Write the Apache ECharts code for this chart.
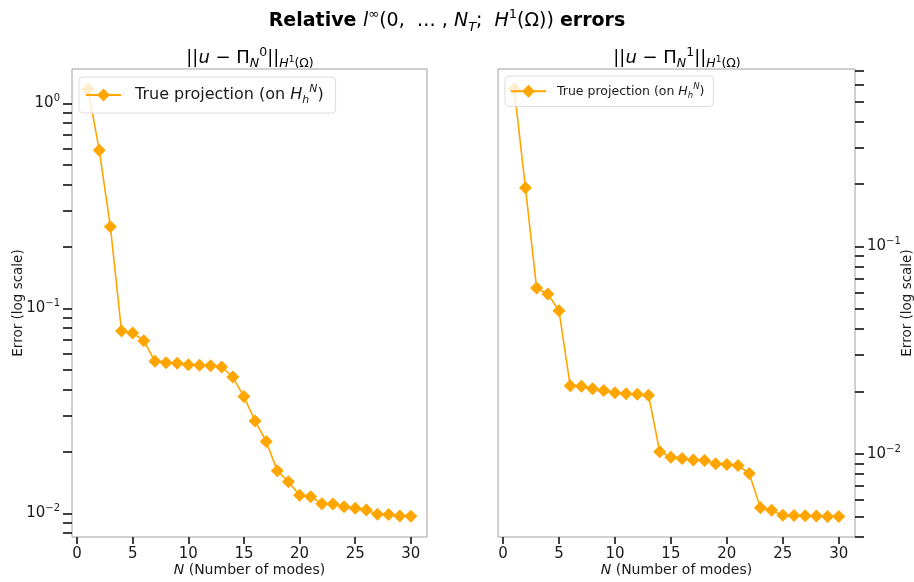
<!DOCTYPE html>
<html>
<head>
<meta charset="utf-8">
<script src="https://cdn.jsdelivr.net/npm/echarts@6/dist/echarts.min.js"></script>
<style>
  html, body { margin: 0; padding: 0; background: #fff; }
  #chart { width: 914px; height: 582px; }
</style>
</head>
<body>
<div id="chart"></div>
<script>
// N values (number of modes)
var modes = [1, 2, 3, 4, 5, 6, 7, 8, 9, 10, 11, 12, 13, 14, 15, 16, 17, 18, 19, 20, 21, 22, 23, 24, 25, 26, 27, 28, 29, 30];

// ||u - Pi_N^0|| errors
var errorsPi0 = [1.17, 0.59, 0.25, 0.0774, 0.0758, 0.0695, 0.0551, 0.0543, 0.0540, 0.0531,
    0.0528, 0.0525, 0.0517, 0.0462, 0.0371, 0.0282, 0.0224, 0.0161, 0.01426, 0.01224,
    0.01205, 0.01114, 0.0111, 0.01076, 0.01057, 0.01037, 0.00988, 0.00985, 0.0097, 0.00968];

// ||u - Pi_N^1|| errors
var errorsPi1 = [0.573, 0.192, 0.063, 0.059, 0.049, 0.0213, 0.0212, 0.0206, 0.0202, 0.0197,
    0.0195, 0.0194, 0.0192, 0.01026, 0.00964, 0.0095, 0.00935, 0.0093, 0.00898, 0.0089,
    0.0088, 0.00806, 0.0055, 0.00535, 0.00506, 0.00505, 0.00504, 0.00502, 0.005, 0.005];

// tick labels
var xTicks = [0, 5, 10, 15, 20, 25, 30];
var leftMajor = [0.01, 0.1, 1];
var rightMajor = [0.01, 0.1];
var leftMinor = [0.008, 0.009, 0.01, 0.02, 0.03, 0.04, 0.05, 0.06, 0.07, 0.08, 0.09,
    0.1, 0.2, 0.3, 0.4, 0.5, 0.6, 0.7, 0.8, 0.9, 1];
var rightMinor = [0.004, 0.005, 0.006, 0.007, 0.008, 0.009, 0.01, 0.02, 0.03, 0.04, 0.05,
    0.06, 0.07, 0.08, 0.09, 0.1, 0.2, 0.3, 0.4, 0.5, 0.6, 0.7];

var seriesName = 'True projection (on H_h^N)';
var FONT = 'DejaVu Sans';
var TXT = '#1a1a1a';
var ORANGE = '#FFA500';

function pairs(ys) {
    var out = [];
    for (var i = 0; i < modes.length; i++) {
        out.push([modes[i], ys[i]]);
    }
    return out;
}

function powLabel(v) {
    var e = Math.round(Math.log(v) / Math.LN10);
    var s = e < 0 ? '\u2212' + (-e) : '' + e;
    return '{b|10}{s|' + s + '}';
}

var powRich = {
    b: { fontFamily: FONT, fontSize: 15, color: TXT, lineHeight: 20 },
    s: { fontFamily: FONT, fontSize: 10, color: TXT, verticalAlign: 'top', lineHeight: 12 }
};

// rich text piece helper
function rt(size, extra) {
    var o = { fontFamily: FONT, fontSize: size, color: '#000', fontWeight: 'normal' };
    for (var k in extra) {
        o[k] = extra[k];
    }
    return o;
}

function xAxisOpt(idx) {
    return {
        type: 'value',
        gridIndex: idx,
        min: -0.45,
        max: 31.45,
        name: '{i|N} (Number of modes)',
        nameLocation: 'middle',
        nameGap: 26,
        nameMoveOverlap: false,
        nameTextStyle: {
            fontFamily: FONT, fontSize: 14, color: TXT,
            rich: {
                i: { fontFamily: FONT, fontSize: 14, color: TXT, fontStyle: 'italic' }
            }
        },
        axisLine: { show: false, onZero: false },
        splitLine: { show: false },
        axisTick: { show: true, length: 7, lineStyle: { color: '#000', width: 1.5 }, customValues: xTicks },
        axisLabel: { fontFamily: FONT, fontSize: 15, color: TXT, margin: 10, customValues: xTicks }
    };
}

function yAxisOpt(idx, pos, min, max, major, minor, gap) {
    return {
        type: 'log',
        logBase: 10,
        gridIndex: idx,
        position: pos,
        min: min,
        max: max,
        name: 'Error (log scale)',
        nameLocation: 'middle',
        nameRotate: 90,
        nameGap: gap,
        nameMoveOverlap: false,
        nameTextStyle: { fontFamily: FONT, fontSize: 13.5, color: TXT },
        axisLine: { show: false, onZero: false },
        splitLine: { show: false },
        minorTick: { show: false },
        axisTick: { show: true, length: 9, lineStyle: { color: '#000', width: 1.5 }, customValues: minor },
        axisLabel: { margin: 12, customValues: major, formatter: powLabel, rich: powRich }
    };
}

function legendOpt(left, top, size, pad, textPad) {
    return {
        left: left,
        top: top,
        data: [seriesName],
        itemWidth: 35,
        itemHeight: 16,
        padding: pad,
        backgroundColor: 'rgba(255,255,255,0.8)',
        borderColor: '#dddddd',
        borderWidth: 1,
        borderRadius: 4,
        selectedMode: false,
        formatter: function () {
            return '{t|True projection (on }{i|H}{sb|h}{sp|N}{t|)}';
        },
        textStyle: {
            fontFamily: FONT, fontSize: size, color: TXT,
            padding: [0, 0, 0, textPad],
            rich: {
                t: { fontFamily: FONT, fontSize: size, color: TXT, lineHeight: size + 6 },
                i: { fontFamily: FONT, fontSize: size, color: TXT, fontStyle: 'italic', lineHeight: size + 6 },
                sb: { fontFamily: FONT, fontSize: size * 0.68, color: TXT, fontStyle: 'italic', verticalAlign: 'bottom' },
                sp: { fontFamily: FONT, fontSize: size * 0.68, color: TXT, fontStyle: 'italic', verticalAlign: 'top' }
            }
        }
    };
}

function subTitle(cx, sup) {
    return {
        left: cx,
        top: 46,
        padding: 0,
        textAlign: 'center',
        text: '{n|||}{i|u}{n| \u2212 \u03a0}{sb|N}{sp|' + sup + '}{n|||}{si|H}{ss|1}{sn|(\u03a9)}',
        textStyle: {
            fontWeight: 'normal',
            rich: {
                n: rt(18, { lineHeight: 24 }),
                i: rt(18, { fontStyle: 'italic', lineHeight: 24 }),
                sb: rt(12.5, { fontStyle: 'italic', verticalAlign: 'bottom' }),
                si: rt(12.5, { fontStyle: 'italic', verticalAlign: 'bottom' }),
                sn: rt(12.5, { verticalAlign: 'bottom' }),
                ss: rt(9, { verticalAlign: 'bottom', padding: [0, 0, 6, 0] }),
                sp: rt(12.5, { verticalAlign: 'top' })
            }
        }
    };
}

function lineSeries(name, x, y, data) {
    return {
        name: name,
        type: 'line',
        xAxisIndex: x,
        yAxisIndex: y,
        data: data,
        symbol: 'diamond',
        symbolSize: 13,
        showSymbol: true,
        color: ORANGE,
        lineStyle: { color: ORANGE, width: 1.6 },
        itemStyle: { color: ORANGE },
        z: 2
    };
}

var myChart = echarts.init(document.getElementById('chart'), null, { renderer: 'canvas' });

var option = {
    backgroundColor: '#ffffff',
    animation: false,
    title: [
        {
            left: 447,
            top: 8,
            padding: 0,
            textAlign: 'center',
            text: '{b|Relative }{i|l}{sp|\u221e}{n|(0,  \u2026 , }{i|N}{sb|T}{n|;  }{i|H}{sp|1}{n|(\u03a9)) }{b|errors}',
            textStyle: {
                fontWeight: 'normal',
                rich: {
                    b: rt(19, { fontWeight: 'bold', lineHeight: 26 }),
                    n: rt(19, { lineHeight: 26 }),
                    i: rt(19, { fontStyle: 'italic', lineHeight: 26 }),
                    sp: rt(13, { verticalAlign: 'top' }),
                    sb: rt(13, { fontStyle: 'italic', verticalAlign: 'bottom' })
                }
            }
        },
        subTitle(250, '0'),
        subTitle(677, '1')
    ],
    legend: [
        legendOpt(79, 77, 16, [7, 12, 7, 6], 9),
        legendOpt(505, 76, 12.5, [6, 9, 6, 5], 6)
    ],
    grid: [
        { left: 72, top: 69, width: 355, height: 468, show: true, borderColor: '#a0a0a0', borderWidth: 1, containLabel: false, outerBoundsMode: 'none' },
        { left: 498, top: 69, width: 357, height: 468, show: true, borderColor: '#a0a0a0', borderWidth: 1, containLabel: false, outerBoundsMode: 'none' }
    ],
    xAxis: [xAxisOpt(0), xAxisOpt(1)],
    yAxis: [
        yAxisOpt(0, 'left', 0.00766, 1.47, leftMajor, leftMinor, 47),
        yAxisOpt(1, 'right', 0.00398, 0.716, rightMajor, rightMinor, 45)
    ],
    series: [
        lineSeries(seriesName, 0, 0, pairs(errorsPi0)),
        lineSeries(seriesName, 1, 1, pairs(errorsPi1))
    ]
};

myChart.setOption(option);
</script>
</body>
</html>
